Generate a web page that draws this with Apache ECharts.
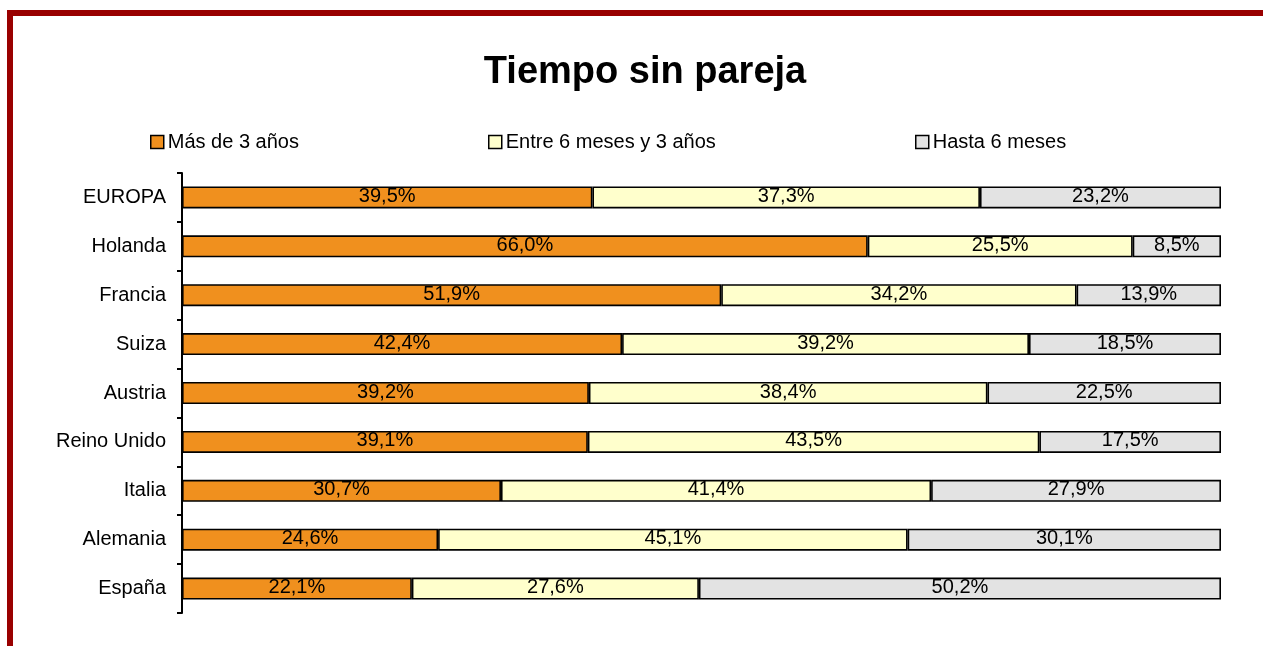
<!DOCTYPE html>
<html>
<head>
<meta charset="utf-8">
<script src="https://cdn.jsdelivr.net/npm/echarts@6/dist/echarts.min.js"></script>
<style>
html,body{margin:0;padding:0;background:#fff;}
#frame{position:absolute;left:7px;top:10px;width:1256px;height:636px;border-top:6px solid #990000;border-left:6px solid #990000;box-sizing:border-box;}
#chart{position:absolute;left:0;top:0;width:1263px;height:646px;}
</style>
</head>
<body>
<div id="frame"></div>
<div id="chart"></div>
<script>
const categories = ['EUROPA','Holanda','Francia','Suiza','Austria','Reino Unido','Italia','Alemania','España'];
const seriesNames = ['Más de 3 años','Entre 6 meses y 3 años','Hasta 6 meses'];
const masDe3 = [39.5, 66.0, 51.9, 42.4, 39.2, 39.1, 30.7, 24.6, 22.1];
const entre6y3 = [37.3, 25.5, 34.2, 39.2, 38.4, 43.5, 41.4, 45.1, 27.6];
const hasta6 = [23.2, 8.5, 13.9, 18.5, 22.5, 17.5, 27.9, 30.1, 50.2];
const colors = ['#F0901E', '#FFFFCC', '#E3E3E3'];

const raw = [masDe3, entre6y3, hasta6];
const totals = categories.map((c, i) => masDe3[i] + entre6y3[i] + hasta6[i]);
const legendLefts = [145, 483, 910];

const chart = echarts.init(document.getElementById('chart'), null, {renderer: 'canvas'});
const font = 'Liberation Sans, Arial, sans-serif';
chart.setOption({
  animation: false,
  backgroundColor: 'transparent',
  title: {
    text: 'Tiempo sin pareja',
    left: 640, top: 49, textAlign: 'center',
    textStyle: {fontFamily: font, fontSize: 38, fontWeight: 'bold', color: '#000'}
  },
  legend: seriesNames.map((n, i) => ({
    top: 127, left: legendLefts[i],
    itemWidth: 13, itemHeight: 13, itemGap: 0,
    icon: 'rect',
    data: [{name: n}],
    textStyle: {fontFamily: font, fontSize: 20, color: '#000', padding: [0, 0, 0, -1]},
    itemStyle: {borderColor: '#000', borderWidth: 1.5}
  })),
  grid: {left: 182, right: 42, top: 173, bottom: 33, containLabel: false},
  xAxis: {type: 'value', min: 0, max: 100, show: false},
  yAxis: {
    type: 'category', data: categories, inverse: true,
    axisLine: {show: true, lineStyle: {color: '#000', width: 2}},
    axisTick: {show: true, length: 5, lineStyle: {color: '#000', width: 2}},
    axisLabel: {fontFamily: font, fontSize: 20, color: '#000', margin: 16}
  },
  series: raw.map((arr, s) => ({
    name: seriesNames[s],
    type: 'bar', stack: 'total', barWidth: 22,
    itemStyle: {color: colors[s], borderColor: '#000', borderWidth: 1.6},
    label: {
      show: true, position: 'inside', color: '#000', fontFamily: font, fontSize: 20,
      offset: [0, -1],
      formatter: function (p) { return arr[p.dataIndex].toFixed(1).replace('.', ',') + '%'; }
    },
    data: arr.map((v, i) => v / totals[i] * 100)
  }))
});
</script>
</body>
</html>
